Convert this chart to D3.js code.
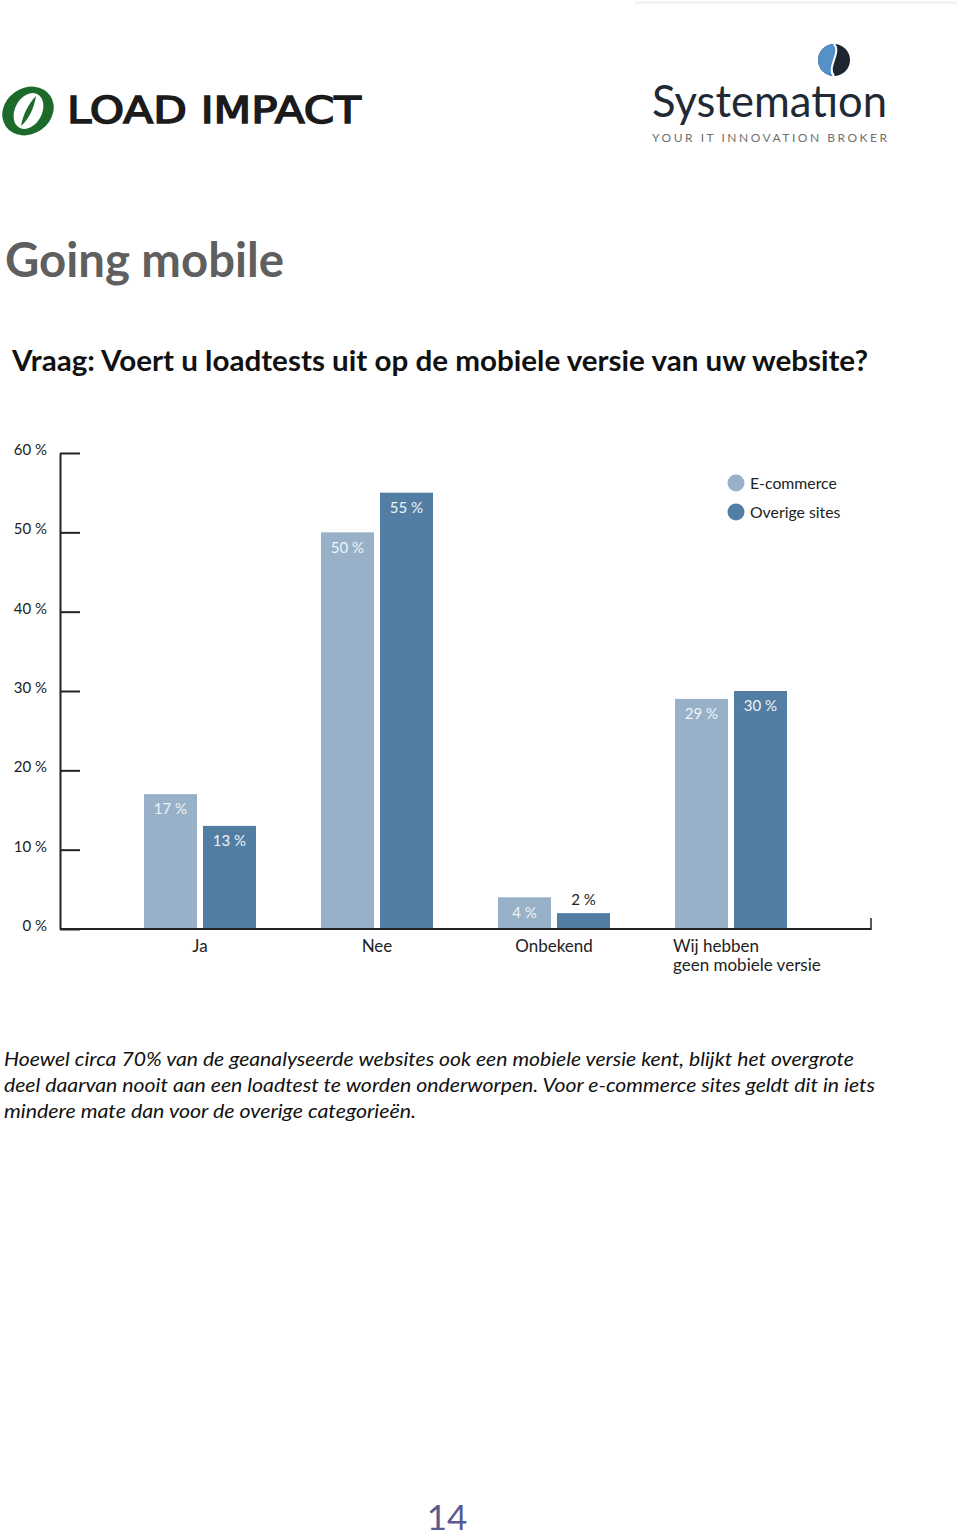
<!DOCTYPE html>
<html>
<head>
<meta charset="utf-8">
<script src="https://cdn.jsdelivr.net/npm/d3@7"></script>
<style>
  html, body { margin: 0; padding: 0; background: #fff; }
  svg { display: block; }
</style>
</head>
<body>
<script>
// ---------- DATA ----------
const categories = ["Ja", "Nee", "Onbekend", "Wij hebben\ngeen mobiele versie"];
const seriesNames = ["E-commerce", "Overige sites"];
const ecommerce = [17, 50, 4, 29];
const overige = [13, 55, 2, 30];
const yTicks = [0, 10, 20, 30, 40, 50, 60];
const yTickLabels = ["0 %", "10 %", "20 %", "30 %", "40 %", "50 %", "60 %"];
const paragraph = [
  "Hoewel circa 70% van de geanalyseerde websites ook een mobiele versie kent, blijkt het overgrote",
  "deel daarvan nooit aan een loadtest te worden onderworpen. Voor e-commerce sites geldt dit in iets",
  "mindere mate dan voor de overige categorieën."
];

const W = 960, H = 1537;
const colors = ["#98b1c8", "#537ea4"];
const font = "Lato, 'Open Sans', sans-serif";

const svg = d3.select("body").append("svg").attr("width", W).attr("height", H);

// faint line at top right
svg.append("rect").attr("x", 635).attr("y", 1).attr("width", 322).attr("height", 3).attr("fill", "#f3f3f3");

// ---------- LOAD IMPACT logo ----------
const li = svg.append("g");
li.append("ellipse").attr("cx", 28).attr("cy", 111).attr("rx", 27).attr("ry", 23)
  .attr("transform", "rotate(-35 28 111)").attr("fill", "#1d6b2b");
li.append("ellipse").attr("cx", 28.5).attr("cy", 111).attr("rx", 19).attr("ry", 13.5)
  .attr("transform", "rotate(-62 28.5 111)").attr("fill", "#fff");
li.append("path").attr("d", "M36,96 C29,103 23,114 21,126 C29,119 34,108 36,96 Z").attr("fill", "#1d6b2b");
li.append("text").attr("x", 67).attr("y", 123).attr("font-family", "'DejaVu Sans', sans-serif")
  .attr("font-weight", "normal").attr("font-size", 38).attr("fill", "#1b1b1b")
  .attr("stroke", "#1b1b1b").attr("stroke-width", 1.6)
  .attr("textLength", 294).attr("lengthAdjust", "spacingAndGlyphs").text("LOAD IMPACT");

// ---------- SYSTEMATION logo ----------
const sy = svg.append("g");
sy.append("circle").attr("cx", 834).attr("cy", 60).attr("r", 16).attr("fill", "#1c2530");
sy.append("path").attr("d", "M834,44 A16,16 0 0,0 834,76 C826,68 842,52 834,44 Z").attr("fill", "#5591c9");
sy.append("path").attr("d", "M834,44 C842,52 826,68 834,76").attr("fill", "none").attr("stroke", "#fff").attr("stroke-width", 2);
sy.append("text").attr("x", 652).attr("y", 117).attr("font-family", font).attr("font-size", 44)
  .attr("fill", "#1f2a36").attr("textLength", 235).attr("lengthAdjust", "spacingAndGlyphs").text("Systematıon");
sy.append("text").attr("x", 652).attr("y", 142).attr("font-family", font).attr("font-size", 12)
  .attr("fill", "#707070").attr("textLength", 235).attr("lengthAdjust", "spacing").text("YOUR IT INNOVATION BROKER");

// ---------- Titles ----------
svg.append("text").attr("x", 5).attr("y", 277).attr("font-family", font).attr("font-weight", "bold")
  .attr("font-size", 48).attr("fill", "#5f5f5f").attr("textLength", 279).attr("lengthAdjust", "spacingAndGlyphs")
  .text("Going mobile");
svg.append("text").attr("x", 12).attr("y", 371).attr("font-family", font).attr("font-weight", "bold")
  .attr("font-size", 28).attr("fill", "#111").attr("textLength", 856).attr("lengthAdjust", "spacingAndGlyphs")
  .text("Vraag: Voert u loadtests uit op de mobiele versie van uw website?");

// ---------- Chart ----------
const y = d3.scaleLinear().domain([0, 60]).range([929, 453]);
const x0 = d3.scaleBand().domain(categories).range([111.5, 819.5]).paddingInner(0).paddingOuter(0);
const x1 = d3.scaleBand().domain(seriesNames).range([32.5, 144.5]).paddingInner(6 / 59).paddingOuter(0);

const data = categories.map((c, i) => ({ cat: c, values: [ecommerce[i], overige[i]] }));

const chart = svg.append("g");

// bars
const groups = chart.selectAll("g.grp").data(data).join("g").attr("class", "grp")
  .attr("transform", d => `translate(${x0(d.cat)},0)`);
groups.selectAll("rect").data(d => d.values.map((v, k) => ({ v, s: seriesNames[k], k })))
  .join("rect")
  .attr("x", d => x1(d.s)).attr("width", x1.bandwidth())
  .attr("y", d => y(d.v)).attr("height", d => y(0) - y(d.v))
  .attr("fill", d => colors[d.k]);
groups.selectAll("text.val").data(d => d.values.map((v, k) => ({ v, s: seriesNames[k], k })))
  .join("text").attr("class", "val")
  .attr("x", d => x1(d.s) + x1.bandwidth() / 2)
  .attr("y", d => d.v < 3 ? y(d.v) - 13 : y(d.v) + 15)
  .attr("dy", "0.35em").attr("text-anchor", "middle")
  .attr("font-family", font).attr("font-size", 15)
  .attr("fill", d => d.v < 3 ? "#222" : "#eef3f8")
  .text(d => d.v + " %");

// y axis
const yAxis = d3.axisLeft(y).tickValues(yTicks).tickSizeInner(-20).tickSizeOuter(0).tickPadding(13)
  .tickFormat((d, i) => yTickLabels[i]);
const ag = chart.append("g").attr("transform", "translate(60,0)").call(yAxis);
ag.select(".domain").attr("stroke", "#222").attr("stroke-width", 2);
ag.selectAll(".tick line").attr("stroke", "#222").attr("stroke-width", 2);
ag.selectAll(".tick text").attr("font-family", font).attr("font-size", 15).attr("fill", "#222").attr("dy", "0.1em");

// baseline
chart.append("line").attr("x1", 60).attr("x2", 871).attr("y1", y(0)).attr("y2", y(0))
  .attr("stroke", "#222").attr("stroke-width", 2);
chart.append("line").attr("x1", 871).attr("x2", 871).attr("y1", y(0) - 11).attr("y2", y(0) + 1)
  .attr("stroke", "#222").attr("stroke-width", 1.5);

// category labels
data.forEach((d, i) => {
  const lines = d.cat.split("\n");
  const multi = lines.length > 1;
  const cx = multi ? x0(d.cat) + x1(seriesNames[0]) - 2 : x0(d.cat) + x0.bandwidth() / 2;
  const t = chart.append("text").attr("font-family", font).attr("font-size", 17).attr("fill", "#222")
    .attr("text-anchor", multi ? "start" : "middle")
    .attr("x", cx).attr("y", 952);
  lines.forEach((ln, j) => t.append("tspan").attr("x", cx).attr("dy", j === 0 ? 0 : 19).text(ln));
});

// legend
const lg = chart.append("g");
seriesNames.forEach((s, i) => {
  lg.append("circle").attr("cx", 736).attr("cy", 483 + i * 29).attr("r", 8.5).attr("fill", colors[i]);
  lg.append("text").attr("x", 750).attr("y", 483 + i * 29).attr("dy", "0.35em")
    .attr("font-family", font).attr("font-size", 15.8).attr("fill", "#222").text(s);
});

// ---------- Paragraph ----------
const pLens = [850, 871, 412];
paragraph.forEach((ln, i) => {
  svg.append("text").attr("x", 4).attr("y", 1066 + i * 26).attr("font-family", font)
    .attr("font-style", "italic").attr("font-size", 19.5).attr("fill", "#111")
    .attr("textLength", pLens[i]).attr("lengthAdjust", "spacingAndGlyphs").text(ln);
});

// page number
svg.append("text").attr("x", 447).attr("y", 1530).attr("text-anchor", "middle").attr("font-family", font)
  .attr("font-size", 35).attr("fill", "#5b5b8f").text("14");
</script>
</body>
</html>
